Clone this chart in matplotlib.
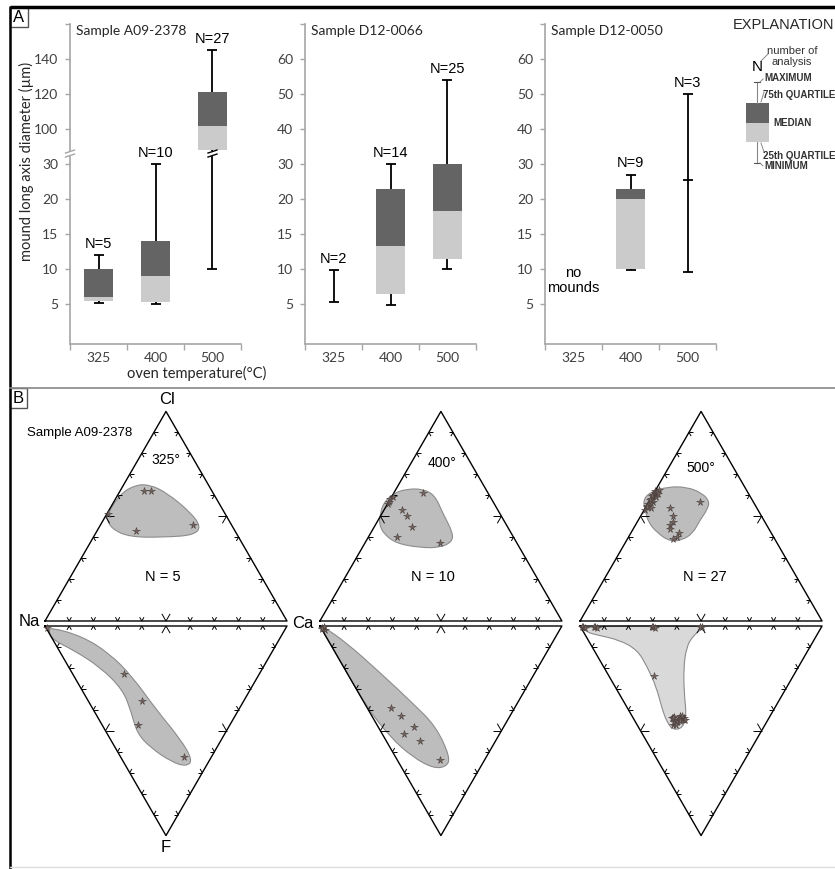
import numpy as np
import matplotlib.pyplot as plt
from matplotlib.path import Path
from matplotlib.patches import PathPatch, Rectangle
from matplotlib.collections import LineCollection

plt.rcParams['font.family'] = ['Liberation Sans', 'DejaVu Sans']

W, H = 835, 869
fig = plt.figure(figsize=(W / 100, H / 100), dpi=100)

### Panel A data: mound long axis diameter (um) per oven temperature
temps = ['325', '400', '500']
titles = ['Sample A09-2378', 'Sample D12-0066', 'Sample D12-0050']

a09_min = [5.1, 5.0, 10]
a09_q1 = [5.4, 5.3, 88]
a09_med = [6, 9, 102]
a09_q3 = [10, 14, 121]
a09_max = [12, 30, 145]
a09_n = [5, 10, 27]

d66_min = [5.3, 4.9, 10]
d66_q1 = [np.nan, 6.4, 11.5]
d66_med = [np.nan, 13.3, 18.3]
d66_q3 = [np.nan, 23, 30]
d66_max = [9.8, 30, 54]
d66_n = [2, 14, 25]

d50_min = [np.nan, 9.8, 9.6]
d50_q1 = [np.nan, 10, np.nan]
d50_med = [np.nan, 20, 25.3]
d50_q3 = [np.nan, 23, np.nan]
d50_max = [np.nan, 27, 50]
d50_n = [0, 9, 3]

# piecewise y axis (Excel style, evenly spaced labels)
lin_vals = [-5, 0, 5, 10, 15, 20, 30, 40, 50, 60, 70, 80]
lin_pos = [-1, 0, 1, 2, 3, 4, 5, 6, 7, 8, 9, 10]
brk_vals = [-5, 0, 5, 10, 15, 20, 30, 33, 86, 100, 120, 140, 160, 180]
brk_pos = [-1, 0, 1, 2, 3, 4, 5, 5.3, 5.3001, 6, 7, 8, 9, 10]
lin_ticks = [5, 10, 15, 20, 30, 40, 50, 60, 70]
lin_labels = ['5', '10', '15', '20', '30', '40', '50', '60', '']
brk_ticks = [5, 10, 15, 20, 30, 100, 120, 140, 160]
brk_labels = ['5', '10', '15', '20', '30', '100', '120', '140', '']

### Panel B data: ternary compositions (%)
# stars: upper triangle (Cl, Ca), lower triangle (F, Ca); Na is the rest
s325_up_cl = [62, 62, 43, 46, 51]
s325_up_ca = [10, 13, 16, 38, 0.5]
s325_lo_f = [23, 36, 47, 62.5, 1]
s325_lo_ca = [21, 22, 15, 26, 0.5]

s400_up_cl = [56, 57, 58, 59, 61, 53, 50, 45, 40, 37]
s400_up_ca = [0, 0, 0, 0.5, 12, 7.5, 11, 15.5, 12, 31]
s400_lo_f = [39, 43, 48, 51.5, 55, 64, 1, 2, 0.5, 1.5]
s400_lo_ca = [10, 12, 15, 9, 14, 17.6, 0.5, 1, 1.5, 0.2]

s500_up_cl = [60, 56, 54, 60, 62, 53, 62.5, 58, 57, 55, 59, 61, 56.5, 59.5, 61.5, 54.5, 57.5, 60.5,
              54, 57, 50, 47, 46, 44, 42, 40, 39]
s500_up_ca = [0, 0, 2.5, 1, 0, 0.5, 1.5, 0.5, 1.5, 0, 2, 0.5, 1, 0, 1, 0.5, 0, 2,
              10, 21, 13.6, 15, 14, 15, 20, 20, 19]
s500_lo_f = [0.5, 0.5, 0.5, 0.5, 24, 44, 47, 43, 44, 46, 45, 43.5, 45, 0.5, 1, 0.5, 1, 0.5, 1, 0.5,
             46, 44.5, 43, 45.5, 44, 47, 45]
s500_lo_ca = [1, 6, 30, 50, 18.6, 16, 15, 19.6, 21, 16, 18, 17, 20.5, 0.5, 1.5, 5.5, 6.5, 29.5, 30.5, 49.5,
              17, 19, 20.5, 18.5, 16.5, 16, 21]

# composition fields (outline control points)
f325_up_cl = [50.6, 60.6, 65, 65, 61, 52, 45, 41, 40, 40, 44, 49]
f325_up_ca = [0.3, 0.7, 5, 11, 20, 34, 42, 41, 30, 15, 5.5, 1]
f325_lo_f = [0.5, 5, 13, 24, 40, 54, 64, 67, 65, 58, 51, 41.5, 30.5, 19.6, 11.5, 6.7, 3]
f325_lo_ca = [1.8, 13, 20, 24, 26, 29, 29, 25, 20, 14.5, 12.5, 15, 17, 13, 6, 0, 0]

f400_up_cl = [49.6, 56, 61, 63, 63, 60, 51.5, 42, 37.7, 35, 35, 37, 42, 47]
f400_up_ca = [0, -2, 0, 4.5, 11, 17.5, 25, 34, 35.7, 32, 24, 13, 5, 1]
f400_lo_f = [0, 8, 22, 37, 48, 62.5, 67, 68, 62.5, 53, 38.6, 19.6, 5, 0.5]
f400_lo_ca = [1, 7, 13.6, 20, 24, 22.5, 19, 13, 7, 2.5, 0, 0, 0, 0]

f500_up_cl = [57.7, 61.5, 64, 64, 61, 57, 53, 48, 42, 38.6, 38, 42, 47, 53]
f500_up_ca = [-2.8, -1.8, 4, 12, 20, 25, 26, 25.5, 25.7, 23, 18, 11, 4.7, 0.4]
f500_lo_f = [0, 0, 1, 5, 10, 19.6, 32, 43, 48.7, 49.6, 46, 40, 29, 19.6, 11.5, 6.7, 4.3, 3]
f500_lo_ca = [0, 51, 50, 44, 39, 33, 27, 22.5, 18, 13.6, 13, 14, 17, 18, 18, 13, 5, 1.4]

dark = '#646464'
light = '#cbcbcb'
axis_grey = '#a6a6a6'
txt_grey = '#404040'


def make_scale(vals, pos):
    vals = np.asarray(vals, float)
    pos = np.asarray(pos, float)
    return (lambda v: np.interp(v, vals, pos)), (lambda p: np.interp(p, pos, vals))


# overlay axes in pixel coordinates for frame / free text
over = fig.add_axes([0, 0, 1, 1], zorder=10)
over.set_xlim(0, W)
over.set_ylim(H, 0)
over.axis('off')
over.patch.set_alpha(0)


def break_mark(ax, x, v, color):
    cx, cy = over.transData.inverted().transform(ax.transData.transform((x, v)))
    over.plot([cx, cx], [cy - 2.5, cy + 2.5], color='white', lw=3, solid_capstyle='butt')
    for dy in (-2, 2):
        over.plot([cx - 4.5, cx + 4.5], [cy + dy + 1.5, cy + dy - 1.5], color=color, lw=1)


stats = [
    (a09_min, a09_q1, a09_med, a09_q3, a09_max, a09_n),
    (d66_min, d66_q1, d66_med, d66_q3, d66_max, d66_n),
    (d50_min, d50_q1, d50_med, d50_q3, d50_max, d50_n),
]
lefts = [70, 305, 545]
for i in range(3):
    if i == 0:
        fwd, inv = make_scale(brk_vals, brk_pos)
        ticks, labels = brk_ticks, brk_labels
    else:
        fwd, inv = make_scale(lin_vals, lin_pos)
        ticks, labels = lin_ticks, lin_labels
    ax = fig.add_axes([lefts[i] / W, (H - 344) / H, 171 / W, 320 / H])
    ax.patch.set_alpha(0)
    ax.set_yscale('function', functions=(fwd, inv))
    ax.set_xlim(-0.5, 2.5)
    ax.set_ylim(float(inv(-0.14)), float(inv(9)))
    for s in ['top', 'right']:
        ax.spines[s].set_visible(False)
    for s in ['left', 'bottom']:
        ax.spines[s].set_color(axis_grey)
        ax.spines[s].set_linewidth(1.2)
    ax.set_yticks(ticks, labels, fontfamily='Lato', fontsize=10, color=txt_grey)
    ax.yaxis.set_minor_locator(plt.NullLocator())
    ax.tick_params(axis='y', length=3.5, width=1, color=axis_grey, pad=5)
    ax.set_xticks([0, 1, 2], temps, fontfamily='Lato', fontsize=10, color=txt_grey)
    ax.set_xticks([-0.5, 0.5, 1.5, 2.5], minor=True)
    ax.tick_params(axis='x', which='major', length=0, pad=6)
    ax.tick_params(axis='x', which='minor', length=4, width=1, color=axis_grey)

    mn, q1, md, q3, mx, n = stats[i]
    for j in range(3):
        if np.isnan(mx[j]):
            continue
        if not np.isnan(q1[j]):
            ax.bar(j, md[j] - q1[j], bottom=q1[j], width=0.52, color=light, zorder=3)
            ax.bar(j, q3[j] - md[j], bottom=md[j], width=0.52, color=dark, zorder=3)
            ax.vlines(j, q3[j], mx[j], color='k', lw=1.3, zorder=2)
            ax.vlines(j, mn[j], q1[j], color='k', lw=1.3, zorder=2)
        else:
            ax.vlines(j, mn[j], mx[j], color='k', lw=1.3, zorder=2)
            if not np.isnan(md[j]):
                ax.plot(j, md[j], marker='_', ms=7, mew=1.3, color='k', ls='none')
        ax.plot([j, j], [mn[j], mx[j]], marker='_', ms=7, mew=1.3, color='k', ls='none', zorder=2)
        ax.annotate(f'N={n[j]}', (j, mx[j]), xytext=(0, 3), textcoords='offset points',
                    ha='center', va='bottom', fontsize=10.5)
    if i == 0:
        break_mark(ax, -0.5, 33, axis_grey)
        break_mark(ax, 2, 33, 'k')
    if i == 2:
        ax.text(0, 8.4, 'no\nmounds', ha='center', va='center', fontsize=10.5, linespacing=1.1)
    over.text(lefts[i] + 6, 31, titles[i], fontfamily='Lato', fontsize=10, color='#262626',
              va='center', ha='left')

over.text(26, 161, 'mound long axis diameter (µm)', rotation=90, ha='center', va='center',
          fontfamily='Lato', fontsize=10.5, color='#262626')
over.text(197, 373, 'oven temperature(°C)', ha='center', va='center',
          fontfamily='Lato', fontsize=10.5, color='#262626')

# explanation key
over.text(783, 25, 'EXPLANATION', ha='center', va='center', fontsize=10.5, color='#262626')
over.text(767, 51, 'number of', ha='left', va='center', fontsize=8, color='#333333')
over.text(771, 62, 'analysis', ha='left', va='center', fontsize=8, color='#333333')
over.text(757, 67, 'N', ha='center', va='center', fontsize=11)
over.plot([761, 768], [61, 54], color='#888888', lw=0.7)
over.add_patch(Rectangle((746, 103), 23, 20, fc=dark, ec='none'))
over.add_patch(Rectangle((746, 123), 23, 19, fc=light, ec='none'))
over.plot([757, 757], [82, 103], color='#888888', lw=0.8)
over.plot([757, 757], [142, 163], color='#888888', lw=0.8)
over.plot([754, 760], [82, 82], color='#555555', lw=0.8)
over.plot([754, 760], [163, 163], color='#555555', lw=0.8)
kw = dict(ha='left', va='center', fontsize=7, fontweight='bold', color='#333333')
over.text(764, 78, 'MAXIMUM', **kw)
over.text(763, 95, '75th QUARTILE', **kw)
over.text(773, 123, 'MEDIAN', **kw)
over.text(763, 156, '25th QUARTILE', **kw)
over.text(764, 166, 'MINIMUM', **kw)
over.plot([761, 764], [102, 92], color='#888888', lw=0.7)
over.plot([761, 764], [143, 152], color='#888888', lw=0.7)
over.plot([760, 763], [82, 79], color='#888888', lw=0.7)
over.plot([760, 763], [163, 166], color='#888888', lw=0.7)

### Panel B: ternary diagrams
hgt = np.sqrt(3) / 2
gap = 5 / 242
x0s = [0.0, 1.136, 2.211]
axb = fig.add_axes([10 / W, 0, 825 / W, 486 / H])
axb.set_xlim(-35 / 242, 790 / 242)
axb.set_ylim(-248 / 242, 238 / 242)
axb.axis('off')
axb.patch.set_alpha(0)


def up_xy(cl, ca, x0):
    cl = np.asarray(cl, float) / 100
    ca = np.asarray(ca, float) / 100
    return x0 + ca + cl / 2, cl * hgt


def lo_xy(f, ca, x0):
    f = np.asarray(f, float) / 100
    ca = np.asarray(ca, float) / 100
    return x0 + ca + f / 2, -gap - f * hgt


def smooth_path(xs, ys):
    pts = np.column_stack([xs, ys])
    mids = (pts + np.roll(pts, -1, axis=0)) / 2
    verts = [mids[-1]]
    codes = [Path.MOVETO]
    for k in range(len(pts)):
        verts += [pts[k], mids[k]]
        codes += [Path.CURVE3, Path.CURVE3]
    verts.append(mids[-1])
    codes.append(Path.CLOSEPOLY)
    return Path(verts, codes)


def tri_ticks(P, Q, R):
    segs = []
    for k in range(1, 10):
        T = P + (Q - P) * k / 10
        L = 0.034 if k == 5 else 0.018
        for V in (P, Q):
            d = (R - V) / np.linalg.norm(R - V)
            segs.append([T, T + d * L])
    return segs


fields = [
    (f325_up_cl, f325_up_ca, f325_lo_f, f325_lo_ca, '#bdbdbd'),
    (f400_up_cl, f400_up_ca, f400_lo_f, f400_lo_ca, '#bdbdbd'),
    (f500_up_cl, f500_up_ca, f500_lo_f, f500_lo_ca, '#d9d9d9'),
]
stars = [
    (s325_up_cl, s325_up_ca, s325_lo_f, s325_lo_ca),
    (s400_up_cl, s400_up_ca, s400_lo_f, s400_lo_ca),
    (s500_up_cl, s500_up_ca, s500_lo_f, s500_lo_ca),
]
for k, x0 in enumerate(x0s):
    ucl, uca, lf, lca, lo_col = fields[k]
    axb.add_patch(PathPatch(smooth_path(*up_xy(ucl, uca, x0)), fc='#bdbdbd', ec='#8c8c8c',
                            lw=0.8, zorder=1))
    axb.add_patch(PathPatch(smooth_path(*lo_xy(lf, lca, x0)), fc=lo_col, ec='#8c8c8c',
                            lw=0.8, zorder=1))
    A = np.array([x0, 0.0]); B = np.array([x0 + 1, 0.0]); C = np.array([x0 + 0.5, hgt])
    D = np.array([x0, -gap]); E = np.array([x0 + 1, -gap]); F = np.array([x0 + 0.5, -gap - hgt])
    for P, Q, R in [(A, B, C), (D, E, F)]:
        tri = np.array([P, Q, R, P])
        axb.plot(tri[:, 0], tri[:, 1], color='k', lw=1.0, zorder=2)
        segs = tri_ticks(P, Q, R) + tri_ticks(Q, R, P) + tri_ticks(R, P, Q)
        axb.add_collection(LineCollection(segs, colors='k', linewidths=0.7, zorder=2))
    scl, sca, sf, sca2 = stars[k]
    xs, ys = up_xy(scl, sca, x0)
    axb.plot(xs, ys, ls='none', marker='*', ms=5.5, color='#75655f', mec='#4a3f3c',
             mew=0.4, zorder=3)
    xs, ys = lo_xy(sf, sca2, x0)
    axb.plot(xs, ys, ls='none', marker='*', ms=5.5, color='#75655f', mec='#4a3f3c',
             mew=0.4, zorder=3)

over.text(167, 399, 'Cl', ha='center', va='center', fontsize=12)
over.text(29, 622, 'Na', ha='center', va='center', fontsize=12)
over.text(303, 623, 'Ca', ha='center', va='center', fontsize=12)
over.text(166, 847, 'F', ha='center', va='center', fontsize=12)
over.text(80, 433, 'Sample A09-2378', ha='center', va='center', fontsize=9.5)
for cx, cy, t in [(166, 460, '325°'), (442, 463, '400°'), (701, 468, '500°')]:
    over.text(cx, cy, t, ha='center', va='center', fontsize=10)
for cx, t in [(163, 'N = 5'), (433, 'N = 10'), (705, 'N = 27')]:
    over.text(cx, 577, t, ha='center', va='center', fontsize=10.5)

# frame and panel letters
over.plot([10, 835], [7, 7], color='k', lw=2.5, solid_capstyle='butt')
over.plot([10, 10], [6, 869], color='k', lw=1.8, solid_capstyle='butt')
over.plot([10, 835], [388, 388], color='#888888', lw=1.2)
over.plot([10, 835], [867, 867], color='#dddddd', lw=1)
over.add_patch(Rectangle((10, 7), 18, 20, fc='white', ec='#555555', lw=1))
over.text(19, 17.5, 'A', ha='center', va='center', fontsize=12)
over.add_patch(Rectangle((10, 388), 17, 20, fc='white', ec='#555555', lw=1))
over.text(18.5, 398.5, 'B', ha='center', va='center', fontsize=12)

fig.savefig('out.png', dpi=100)
